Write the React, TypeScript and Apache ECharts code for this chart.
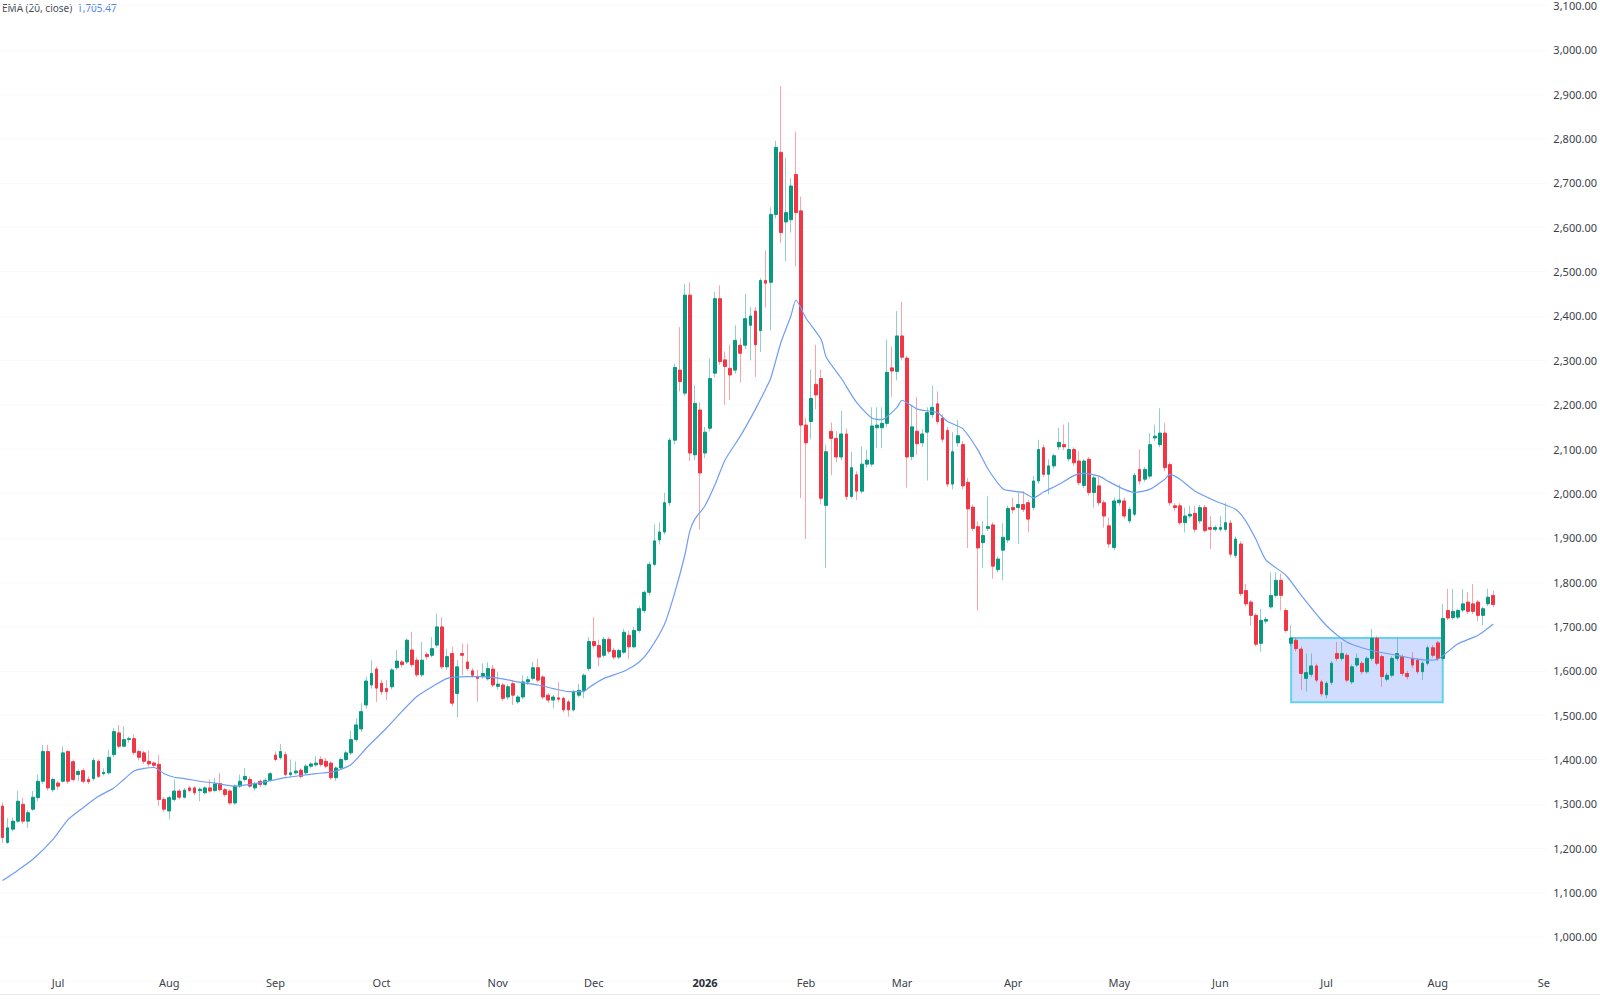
import React, { useEffect, useRef } from 'react';
import * as echarts from 'echarts';

// ---- calendar (trading days) ----
const START_DATE = '2025-06-13';
const END_DATE = '2026-09-01';
const HOLIDAYS = [
  '2025-06-19', '2025-07-04', '2025-09-01', '2025-11-27', '2025-12-25',
  '2026-01-01', '2026-01-19', '2026-02-16', '2026-04-03', '2026-05-25',
  '2026-06-19', '2026-07-03',
];
const MONTHS = ['Jan', 'Feb', 'Mar', 'Apr', 'May', 'Jun', 'Jul', 'Aug', 'Sep', 'Oct', 'Nov', 'Dec'];

// ---- daily candles ----
const OPEN = [
  1295, 1213, 1243, 1261, 1299, 1261, 1288, 1314, 1351, 1418,
  1332, 1347, 1351, 1418, 1395, 1366, 1375, 1355, 1357, 1396,
  1368, 1370, 1411, 1460, 1430, 1445, 1447, 1418, 1415, 1396,
  1392, 1389, 1310, 1284, 1310, 1329, 1315, 1336, 1336, 1330,
  1325, 1336, 1330, 1346, 1332, 1329, 1302, 1340, 1355, 1355,
  1336, 1351, 1344, 1353, 1410, 1404, 1411, 1366, 1370, 1376,
  1370, 1385, 1388, 1400, 1396, 1392, 1359, 1381, 1400, 1415,
  1445, 1469, 1523, 1568, 1604, 1572, 1560, 1564, 1607, 1620,
  1620, 1647, 1624, 1591, 1637, 1635, 1658, 1699, 1609, 1639,
  1549, 1639, 1620, 1600, 1587, 1587, 1582, 1604, 1565, 1568,
  1541, 1571, 1530, 1541, 1575, 1583, 1607, 1586, 1545, 1534,
  1539, 1538, 1530, 1512, 1545, 1556, 1605, 1666, 1657, 1635,
  1671, 1646, 1631, 1642, 1680, 1654, 1691, 1736, 1777, 1840,
  1895, 1913, 1979, 2120, 2278, 2226, 2447, 2087, 2188, 2091,
  2147, 2271, 2439, 2301, 2282, 2278, 2334, 2334, 2379, 2411,
  2367, 2480, 2476, 2629, 2769, 2612, 2617, 2719, 2637, 2154,
  2162, 2246, 2259, 1973, 2140, 2124, 2082, 2134, 1993, 2042,
  2005, 2066, 2066, 2148, 2148, 2158, 2283, 2275, 2355, 2305,
  2083, 2140, 2114, 2138, 2178, 2202, 2170, 2142, 2021, 2114,
  2110, 2025, 1969, 1925, 1889, 1921, 1929, 1828, 1872, 1895,
  1968, 1968, 1975, 1979, 1968, 2028, 2103, 2043, 2062, 2105,
  2110, 2078, 2099, 2073, 2018, 2077, 2002, 2017, 1979, 1927,
  1878, 1979, 1983, 1938, 1953, 2054, 2032, 2039, 2125, 2110,
  2136, 2065, 1972, 1972, 1934, 1949, 1955, 1938, 1968, 1923,
  1919, 1919, 1919, 1933, 1860, 1886, 1781, 1755, 1725, 1662,
  1712, 1744, 1770, 1804, 1736, 1662, 1669, 1649, 1583, 1592,
  1611, 1575, 1546, 1574, 1639, 1628, 1635, 1575, 1613, 1617,
  1598, 1628, 1673, 1632, 1581, 1590, 1628, 1632, 1594, 1628,
  1624, 1598, 1617, 1652, 1663, 1628, 1736, 1720, 1721, 1737,
  1755, 1751, 1755, 1725, 1751, 1770,
];
const CLOSE = [
  1224, 1246, 1261, 1306, 1261, 1280, 1315, 1351, 1418, 1336,
  1355, 1340, 1415, 1351, 1355, 1373, 1351, 1350, 1398, 1362,
  1371, 1405, 1463, 1430, 1445, 1447, 1416, 1405, 1396, 1390,
  1387, 1310, 1288, 1314, 1329, 1315, 1331, 1330, 1325, 1333,
  1336, 1329, 1345, 1332, 1321, 1302, 1340, 1351, 1362, 1340,
  1345, 1344, 1353, 1368, 1400, 1418, 1366, 1370, 1374, 1362,
  1385, 1390, 1392, 1389, 1385, 1359, 1381, 1400, 1415, 1445,
  1478, 1508, 1577, 1594, 1561, 1553, 1553, 1602, 1622, 1614,
  1669, 1614, 1591, 1624, 1632, 1650, 1699, 1609, 1632, 1527,
  1609, 1635, 1605, 1590, 1583, 1594, 1605, 1568, 1570, 1538,
  1564, 1545, 1541, 1575, 1580, 1607, 1579, 1541, 1534, 1541,
  1536, 1512, 1512, 1553, 1556, 1590, 1666, 1657, 1631, 1671,
  1644, 1631, 1646, 1687, 1654, 1691, 1740, 1777, 1840, 1893,
  1913, 1979, 2120, 2284, 2252, 2447, 2091, 2203, 2046, 2138,
  2259, 2439, 2297, 2286, 2267, 2345, 2316, 2394, 2400, 2335,
  2480, 2474, 2629, 2780, 2588, 2633, 2693, 2633, 2154, 2114,
  2214, 2222, 1989, 2094, 2124, 2082, 2134, 1993, 2058, 2005,
  2066, 2075, 2152, 2154, 2158, 2273, 2276, 2355, 2307, 2082,
  2150, 2112, 2134, 2182, 2194, 2162, 2122, 2021, 2094, 2130,
  2017, 1965, 1921, 1877, 1905, 1925, 1836, 1852, 1901, 1966,
  1963, 1975, 1964, 1942, 2028, 2099, 2043, 2062, 2085, 2115,
  2105, 2099, 2069, 2024, 2073, 2002, 2035, 1979, 1949, 1886,
  1983, 1985, 1949, 1964, 2041, 2028, 2054, 2110, 2129, 2136,
  2058, 1979, 1968, 1934, 1949, 1953, 1919, 1968, 1916, 1919,
  1923, 1923, 1934, 1863, 1897, 1774, 1751, 1725, 1660, 1714,
  1716, 1770, 1804, 1770, 1691, 1674, 1650, 1594, 1596, 1611,
  1579, 1548, 1572, 1617, 1628, 1639, 1579, 1609, 1628, 1598,
  1628, 1673, 1617, 1587, 1590, 1628, 1639, 1594, 1587, 1613,
  1598, 1617, 1652, 1635, 1628, 1718, 1719, 1734, 1736, 1751,
  1734, 1734, 1725, 1740, 1766, 1749.46,
];
const LOW = [
  1212, 1210, 1238, 1258, 1255, 1246, 1284, 1306, 1345, 1330,
  1326, 1332, 1348, 1345, 1350, 1352, 1346, 1345, 1352, 1358,
  1364, 1366, 1405, 1425, 1428, 1438, 1410, 1398, 1390, 1384,
  1382, 1295, 1282, 1265, 1306, 1310, 1312, 1326, 1320, 1306,
  1322, 1325, 1327, 1328, 1316, 1298, 1298, 1336, 1350, 1336,
  1330, 1338, 1340, 1350, 1396, 1400, 1362, 1360, 1366, 1358,
  1366, 1380, 1384, 1384, 1380, 1354, 1352, 1378, 1396, 1410,
  1440, 1462, 1515, 1560, 1530, 1545, 1534, 1558, 1602, 1608,
  1615, 1608, 1586, 1586, 1626, 1630, 1652, 1604, 1602, 1520,
  1495, 1590, 1600, 1585, 1530, 1582, 1578, 1563, 1558, 1532,
  1535, 1523, 1525, 1536, 1568, 1578, 1574, 1536, 1528, 1515,
  1530, 1506, 1497, 1508, 1540, 1538, 1600, 1650, 1610, 1630,
  1638, 1626, 1626, 1638, 1626, 1650, 1686, 1730, 1770, 1836,
  1885, 1908, 1972, 2110, 2230, 2220, 2073, 2075, 1919, 2080,
  2140, 2262, 2290, 2200, 2211, 2270, 2250, 2325, 2300, 2263,
  2319, 2419, 2367, 2620, 2564, 2524, 2588, 2512, 1989, 1897,
  2122, 2190, 1975, 1832, 2041, 2070, 2075, 1985, 1988, 1985,
  2000, 2058, 2060, 2102, 2102, 2150, 2218, 2255, 2300, 2013,
  2075, 2086, 2105, 2029, 2170, 2155, 2115, 2015, 2009, 2105,
  2010, 1877, 1915, 1736, 1832, 1915, 1808, 1822, 1804, 1888,
  1955, 1886, 1958, 1912, 1962, 2022, 2037, 1998, 2056, 2098,
  2098, 2072, 2062, 2018, 2012, 1995, 1968, 1972, 1923, 1878,
  1872, 1972, 1943, 1932, 1948, 2020, 2026, 2033, 2118, 2104,
  2050, 1972, 1960, 1928, 1912, 1944, 1912, 1932, 1912, 1875,
  1914, 1914, 1914, 1856, 1854, 1768, 1745, 1702, 1655, 1643,
  1706, 1740, 1765, 1736, 1686, 1656, 1644, 1557, 1553, 1586,
  1574, 1542, 1538, 1568, 1622, 1622, 1574, 1570, 1608, 1592,
  1593, 1622, 1612, 1564, 1576, 1585, 1622, 1588, 1581, 1606,
  1592, 1579, 1612, 1630, 1622, 1622, 1714, 1715, 1716, 1732,
  1728, 1728, 1712, 1703, 1746, 1743,
];
const HIGH = [
  1303, 1268, 1269, 1329, 1314, 1286, 1329, 1366, 1433, 1433,
  1359, 1352, 1430, 1421, 1400, 1378, 1380, 1362, 1404, 1400,
  1380, 1422, 1471, 1478, 1475, 1452, 1457, 1422, 1420, 1420,
  1396, 1410, 1315, 1318, 1355, 1333, 1336, 1340, 1340, 1337,
  1340, 1355, 1359, 1370, 1336, 1333, 1344, 1366, 1381, 1362,
  1350, 1355, 1358, 1372, 1418, 1435, 1418, 1400, 1396, 1380,
  1390, 1394, 1407, 1407, 1404, 1396, 1385, 1404, 1420, 1465,
  1493, 1527, 1587, 1624, 1610, 1580, 1579, 1606, 1647, 1625,
  1673, 1688, 1630, 1665, 1642, 1676, 1729, 1721, 1650, 1654,
  1624, 1661, 1661, 1606, 1602, 1617, 1619, 1613, 1598, 1572,
  1570, 1578, 1546, 1590, 1588, 1620, 1627, 1590, 1550, 1546,
  1575, 1542, 1535, 1557, 1571, 1594, 1676, 1721, 1670, 1676,
  1676, 1652, 1650, 1695, 1690, 1699, 1746, 1781, 1846, 1930,
  1935, 2001, 2125, 2293, 2375, 2473, 2476, 2244, 2205, 2150,
  2304, 2454, 2469, 2320, 2335, 2379, 2350, 2450, 2420, 2420,
  2485, 2548, 2645, 2795, 2918, 2757, 2711, 2815, 2669, 2170,
  2279, 2335, 2279, 2110, 2160, 2140, 2186, 2146, 2094, 2050,
  2106, 2098, 2194, 2194, 2194, 2347, 2331, 2411, 2432, 2310,
  2200, 2218, 2145, 2194, 2243, 2230, 2178, 2150, 2138, 2166,
  2118, 2035, 1975, 1937, 1937, 1993, 1935, 1858, 1933, 1972,
  1990, 2002, 2005, 1985, 2039, 2121, 2110, 2077, 2090, 2148,
  2155, 2160, 2104, 2095, 2077, 2082, 2040, 2039, 1985, 1946,
  1991, 2020, 1990, 1970, 2046, 2099, 2060, 2136, 2155, 2192,
  2159, 2070, 1978, 1978, 1968, 1972, 1972, 1974, 1974, 1949,
  1928, 1949, 1979, 1940, 1903, 1892, 1796, 1760, 1730, 1740,
  1722, 1822, 1822, 1819, 1742, 1703, 1675, 1655, 1639, 1639,
  1616, 1580, 1577, 1622, 1665, 1665, 1640, 1614, 1639, 1622,
  1633, 1695, 1678, 1637, 1596, 1633, 1673, 1637, 1600, 1642,
  1629, 1622, 1657, 1658, 1668, 1751, 1785, 1785, 1740, 1785,
  1778, 1796, 1760, 1745, 1785, 1781,
];

const EMA_POINTS: [number, number][] = [
  [0, 1127], [3, 1150], [6, 1175], [10, 1220], [13, 1265], [16, 1292], [19, 1317], [22, 1336],
  [24, 1355], [26, 1374], [28, 1380], [30, 1382], [32, 1368], [34, 1360], [36, 1357], [39, 1351],
  [42, 1347], [46, 1340], [49, 1344], [52, 1350], [56, 1359], [59, 1364], [62, 1368], [66, 1374],
  [69, 1389], [72, 1426], [76, 1471], [79, 1508], [82, 1542], [85, 1564], [88, 1583], [92, 1587],
  [95, 1587], [99, 1582], [102, 1575], [106, 1568], [109, 1560], [112, 1553], [115, 1553], [116, 1562],
  [119, 1583], [123, 1599], [126, 1620], [128, 1646], [131, 1705], [133, 1775], [135, 1860], [136, 1915],
  [137, 1942], [139, 1972], [141, 2020], [143, 2076], [146, 2129], [149, 2190], [151, 2235], [152, 2259],
  [154, 2339], [156, 2400], [157, 2436], [159, 2395], [162, 2347], [163, 2307], [166, 2259], [169, 2205],
  [172, 2170], [174, 2166], [177, 2194], [178, 2210], [181, 2190], [185, 2182], [187, 2162], [190, 2146],
  [193, 2098], [195, 2055], [198, 2010], [200, 2005], [202, 2002], [204, 1990], [206, 2003], [209, 2020],
  [212, 2040], [214, 2045], [217, 2039], [219, 2026], [222, 2009], [224, 2002], [227, 2009], [230, 2032],
  [231, 2043], [233, 2032], [236, 2005], [240, 1983], [244, 1964], [246, 1938], [248, 1897], [250, 1850],
  [254, 1815], [257, 1770], [261, 1714], [263, 1691], [266, 1665], [269, 1652], [272, 1643], [276, 1635],
  [279, 1628], [282, 1624], [284, 1626], [286, 1643], [288, 1661], [292, 1680], [295, 1705.47],
];

const EMA_LAST = 1705.47;
const LAST_PRICE = 1749.46;
const BOX_FROM = 255;
const BOX_TO = 285;
const BOX_TOP = 1674;
const BOX_BOTTOM = 1529;
const Y_MIN = 900;
const Y_MAX = 3100;
const Y_STEP = 100;

function buildDates(): string[] {
  const out: string[] = [];
  const d = new Date(START_DATE + 'T00:00:00Z');
  const end = new Date(END_DATE + 'T00:00:00Z');
  while (d.getTime() <= end.getTime()) {
    const wd = d.getUTCDay();
    const s = d.toISOString().slice(0, 10);
    if (wd !== 0 && wd !== 6 && HOLIDAYS.indexOf(s) < 0) out.push(s);
    d.setUTCDate(d.getUTCDate() + 1);
  }
  return out;
}

const fmt = (v: number) =>
  v.toLocaleString('en-US', { minimumFractionDigits: 2, maximumFractionDigits: 2 });

const UP = '#089981';
const DOWN = '#f23645';
const UP_WICK = 'rgba(8,153,129,0.45)';
const DOWN_WICK = 'rgba(242,54,69,0.45)';
const FONT = '"Noto Sans", Roboto, sans-serif';

export default function App() {
  const ref = useRef<HTMLDivElement>(null);

  useEffect(() => {
    if (!ref.current) return;
    const chart = echarts.init(ref.current, undefined, { renderer: 'svg' });
    const dates = buildDates();
    const n = OPEN.length;
    const full = [] as number[][];
    const bodies = [] as number[][];
    for (let i = 0; i < n; i++) {
      full.push([OPEN[i], CLOSE[i], LOW[i], HIGH[i]]);
      bodies.push([OPEN[i], CLOSE[i], Math.min(OPEN[i], CLOSE[i]), Math.max(OPEN[i], CLOSE[i])]);
    }
    const ema: (number | null)[] = dates.map(() => null);
    EMA_POINTS.forEach(([i, v]) => {
      ema[i] = v;
    });
    const firstOfMonth = dates.map((s, i) => i > 0 && s.slice(5, 7) !== dates[i - 1].slice(5, 7));

    chart.setOption({
      animation: false,
      backgroundColor: '#ffffff',
      textStyle: { fontFamily: FONT },
      grid: { left: 0, top: 0, width: 1550, height: 981.3, containLabel: false },
      xAxis: {
        type: 'category',
        data: dates,
        boundaryGap: true,
        axisLine: { show: false },
        axisTick: { show: false },
        splitLine: { show: false },
        axisLabel: {
          interval: (index: number) => firstOfMonth[index],
          margin: 1,
          verticalAlign: 'middle',
          color: '#3b3f4a',
          fontSize: 11,
          fontFamily: FONT,
          formatter: (value: string, index: number) => {
            const m = parseInt(value.slice(5, 7), 10);
            if (m === 1) return '{y|' + value.slice(0, 4) + '}';
            if (index === dates.length - 1) return MONTHS[m - 1].slice(0, 2);
            return MONTHS[m - 1];
          },
          rich: {
            y: { fontWeight: 'bold', fontSize: 11, color: '#2a2e39', fontFamily: FONT },
          },
        },
      },
      yAxis: {
        type: 'value',
        position: 'right',
        min: Y_MIN,
        max: Y_MAX,
        interval: Y_STEP,
        axisLine: { show: false },
        axisTick: { show: false },
        splitLine: { show: true, lineStyle: { color: '#f9fafb', width: 1 } },
        axisLabel: {
          showMinLabel: false,
          margin: 7,
          color: '#3b3f4a',
          fontSize: 11,
          fontFamily: FONT,
          formatter: (v: number) => fmt(v),
        },
      },
      series: [
        {
          type: 'candlestick',
          name: 'wicks',
          data: full,
          barWidth: 1,
          itemStyle: {
            color: UP_WICK,
            color0: DOWN_WICK,
            borderColor: UP_WICK,
            borderColor0: DOWN_WICK,
            borderWidth: 1,
          },
          markArea: {
            silent: true,
            itemStyle: {
              color: 'rgba(41,98,255,0.22)',
              borderColor: '#62d2ee',
              borderWidth: 2,
            },
            data: [[
              { xAxis: dates[BOX_FROM], yAxis: BOX_TOP },
              { xAxis: dates[BOX_TO], yAxis: BOX_BOTTOM },
            ]],
          },
        },
        {
          type: 'candlestick',
          name: 'bodies',
          data: bodies,
          barWidth: 3.3,
          itemStyle: {
            color: UP,
            color0: DOWN,
            borderColor: UP,
            borderColor0: DOWN,
            borderWidth: 1,
          },
          markLine: {
            silent: true,
            symbol: ['none', 'none'],
            lineStyle: { opacity: 0 },
            label: {
              show: true,
              position: 'end',
              distance: 0,
              formatter: () => fmt(LAST_PRICE),
              backgroundColor: DOWN,
              color: '#ffffff',
              fontSize: 11,
              fontFamily: FONT,
              padding: [3, 7, 2, 7],
            },
            data: [{ yAxis: LAST_PRICE }],
          },
        },
        {
          type: 'line',
          name: 'EMA',
          data: ema,
          connectNulls: true,
          smooth: 0.2,
          showSymbol: false,
          symbol: 'none',
          lineStyle: { color: '#6f9df5', width: 1.2 },
          z: 5,
        },
      ],
      graphic: [
        {
          type: 'text',
          left: 2,
          top: 3,
          style: { text: 'EMA (20, close)', fill: '#4a4d57', fontSize: 10, fontFamily: FONT },
        },
        {
          type: 'text',
          left: 77,
          top: 3,
          style: { text: fmt(EMA_LAST), fill: '#4f84f2', fontSize: 10, fontFamily: FONT },
        },
        {
          type: 'line',
          shape: { x1: 0, y1: 994.5, x2: 1600, y2: 994.5 },
          style: { stroke: '#e9eaee', lineWidth: 1 },
        },
      ],
    });
    return () => chart.dispose();
  }, []);

  return (
    <div
      ref={ref}
      style={{ position: 'absolute', left: 0, top: 0, width: 1600, height: 1004 }}
    />
  );
}
